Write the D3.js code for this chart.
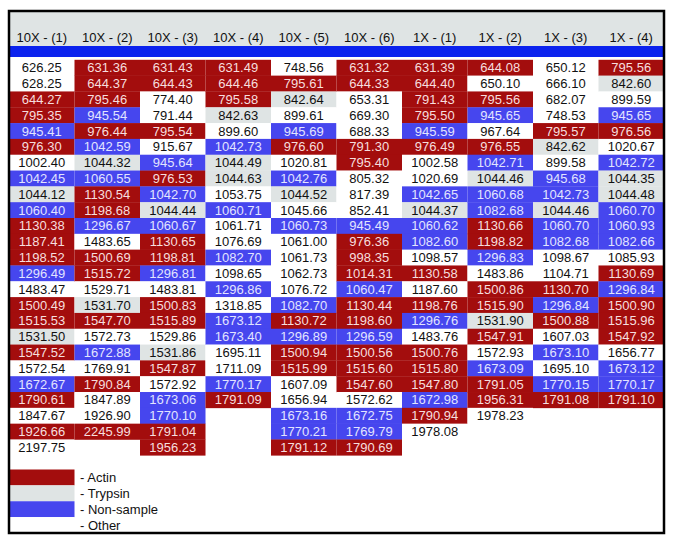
<!DOCTYPE html>
<html lang="en">
<head>
  <meta charset="UTF-8">
  <title>Peak table</title>
  <script src="https://d3js.org/d3.v7.min.js"></script>
  <style>
    body { margin: 0; background: #fff; }
    svg { font-family: "Liberation Sans", Arial, sans-serif; }
  </style>
</head>
<body>
  <div id="chart"></div>
  <script>
    const width = 674, height = 541;

    const columns = ["10X - (1)", "10X - (2)", "10X - (3)", "10X - (4)", "10X - (5)",
                     "10X - (6)", "1X - (1)", "1X - (2)", "1X - (3)", "1X - (4)"];

    // peak masses per column
    const values = [
      [626.25, 628.25, 644.27, 795.35, 945.41, 976.30, 1002.40, 1042.45, 1044.12, 1060.40, 1130.38, 1187.41, 1198.52, 1296.49, 1483.47, 1500.49, 1515.53, 1531.50, 1547.52, 1572.54, 1672.67, 1790.61, 1847.67, 1926.66, 2197.75],
      [631.36, 644.37, 795.46, 945.54, 976.44, 1042.59, 1044.32, 1060.55, 1130.54, 1198.68, 1296.67, 1483.65, 1500.69, 1515.72, 1529.71, 1531.70, 1547.70, 1572.73, 1672.88, 1769.91, 1790.84, 1847.89, 1926.90, 2245.99],
      [631.43, 644.43, 774.40, 791.44, 795.54, 915.67, 945.64, 976.53, 1042.70, 1044.44, 1060.67, 1130.65, 1198.81, 1296.81, 1483.81, 1500.83, 1515.89, 1529.86, 1531.86, 1547.87, 1572.92, 1673.06, 1770.10, 1791.04, 1956.23],
      [631.49, 644.46, 795.58, 842.63, 899.60, 1042.73, 1044.49, 1044.63, 1053.75, 1060.71, 1061.71, 1076.69, 1082.70, 1098.65, 1296.86, 1318.85, 1673.12, 1673.40, 1695.11, 1711.09, 1770.17, 1791.09],
      [748.56, 795.61, 842.64, 899.61, 945.69, 976.60, 1020.81, 1042.76, 1044.52, 1045.66, 1060.73, 1061.00, 1061.73, 1062.73, 1076.72, 1082.70, 1130.72, 1296.89, 1500.94, 1515.99, 1607.09, 1656.94, 1673.16, 1770.21, 1791.12],
      [631.32, 644.33, 653.31, 669.30, 688.33, 791.30, 795.40, 805.32, 817.39, 852.41, 945.49, 976.36, 998.35, 1014.31, 1060.47, 1130.44, 1198.60, 1296.59, 1500.56, 1515.60, 1547.60, 1572.62, 1672.75, 1769.79, 1790.69],
      [631.39, 644.40, 791.43, 795.50, 945.59, 976.49, 1002.58, 1020.69, 1042.65, 1044.37, 1060.62, 1082.60, 1098.57, 1130.58, 1187.60, 1198.76, 1296.76, 1483.76, 1500.76, 1515.80, 1547.80, 1672.98, 1790.94, 1978.08],
      [644.08, 650.10, 795.56, 945.65, 967.64, 976.55, 1042.71, 1044.46, 1060.68, 1082.68, 1130.66, 1198.82, 1296.83, 1483.86, 1500.86, 1515.90, 1531.90, 1547.91, 1572.93, 1673.09, 1791.05, 1956.31, 1978.23],
      [650.12, 666.10, 682.07, 748.53, 795.57, 842.62, 899.58, 945.68, 1042.73, 1044.46, 1060.70, 1082.68, 1098.67, 1104.71, 1130.70, 1296.84, 1500.88, 1607.03, 1673.10, 1695.10, 1770.15, 1791.08],
      [795.56, 842.60, 899.59, 945.65, 976.56, 1020.67, 1042.72, 1044.35, 1044.48, 1060.70, 1060.93, 1082.66, 1085.93, 1130.69, 1296.84, 1500.90, 1515.96, 1547.92, 1656.77, 1673.12, 1770.17, 1791.10]
    ];

    // A = Actin, T = Trypsin, N = Non-sample, O = Other
    const types = [
      "OOAANAONTNAAANOAATAONAOAO",
      "AAANANTNAANOAAOTAONOAOOA",
      "AAOOAONANTNAANOAAOTAONNAA",
      "AAATONTTONOONONONNOONA",
      "OATONAONTONOOOONANAAOONNA",
      "AAOOOAAOOONAAANAANAAAONNA",
      "AAAANAOONTNNOAOANOAAANAO",
      "AOANOANTNNAANOAATAONAAO",
      "OOOOATONNTNNOOANAONONA",
      "ATONAONTTNNNOANAAAONNA"
    ];

    const legendKeys = ["A", "T", "N", "O"];
    const legendLabels = ["- Actin", "- Trypsin", "- Non-sample", "- Other"];

    const fill = d3.scaleOrdinal().domain(legendKeys).range(["#a30d0d", "#dfe4e4", "#4646ee", "#ffffff"]);
    const ink = d3.scaleOrdinal().domain(legendKeys).range(["#f6dede", "#111111", "#e2e4ff", "#111111"]);

    const svg = d3.select("#chart").append("svg")
      .attr("width", width)
      .attr("height", height);

    const frameL = 9, frameR = 664, frameT = 11, frameB = 533;
    const x = d3.scaleBand().domain(columns).range([frameL, frameR]);
    const rowH = 15.82;
    const y = d3.scaleLinear().domain([0, 1]).range([59.8, 59.8 + rowH]);

    // header
    svg.append("rect").attr("x", frameL).attr("y", frameT)
      .attr("width", frameR - frameL).attr("height", 35).attr("fill", "#dfe4e4");
    svg.append("rect").attr("x", frameL).attr("y", 46)
      .attr("width", frameR - frameL).attr("height", 11).attr("fill", "#0b22ee");

    svg.selectAll(".head").data(columns).join("text")
      .attr("x", d => x(d) + x.bandwidth() / 2)
      .attr("y", 37)
      .attr("dy", "0.35em")
      .attr("text-anchor", "middle")
      .attr("font-size", 13)
      .attr("fill", "#111")
      .text(d => d);

    // cells
    const cells = [];
    values.forEach((col, ci) => col.forEach((v, ri) => {
      cells.push({ col: columns[ci], row: ri, value: v, type: types[ci][ri] });
    }));

    const g = svg.append("g");
    g.selectAll("rect").data(cells).join("rect")
      .attr("x", d => x(d.col))
      .attr("y", d => y(d.row))
      .attr("width", x.bandwidth())
      .attr("height", rowH + 0.3)
      .attr("fill", d => fill(d.type));

    g.selectAll("text").data(cells).join("text")
      .attr("x", d => x(d.col) + x.bandwidth() / 2)
      .attr("y", d => y(d.row + 0.5))
      .attr("dy", "0.35em")
      .attr("text-anchor", "middle")
      .attr("font-size", 13)
      .attr("fill", d => ink(d.type))
      .text(d => d.value.toFixed(2));

    // legend
    const ly = d3.scaleBand().domain(legendKeys).range([469.5, 533]);
    const lg = svg.append("g");
    lg.selectAll("rect").data(legendKeys).join("rect")
      .attr("x", frameL)
      .attr("y", d => ly(d))
      .attr("width", x.bandwidth())
      .attr("height", ly.bandwidth())
      .attr("fill", d => fill(d));
    lg.selectAll("text").data(legendKeys).join("text")
      .attr("x", 80)
      .attr("y", d => ly(d) + ly.bandwidth() / 2)
      .attr("dy", "0.35em")
      .attr("font-size", 13)
      .attr("fill", "#111")
      .text((d, i) => legendLabels[i]);

    // frame
    svg.append("rect")
      .attr("x", frameL).attr("y", frameT)
      .attr("width", frameR - frameL).attr("height", frameB - frameT)
      .attr("fill", "none")
      .attr("stroke", "#000")
      .attr("stroke-width", 2.5);
  </script>
</body>
</html>
